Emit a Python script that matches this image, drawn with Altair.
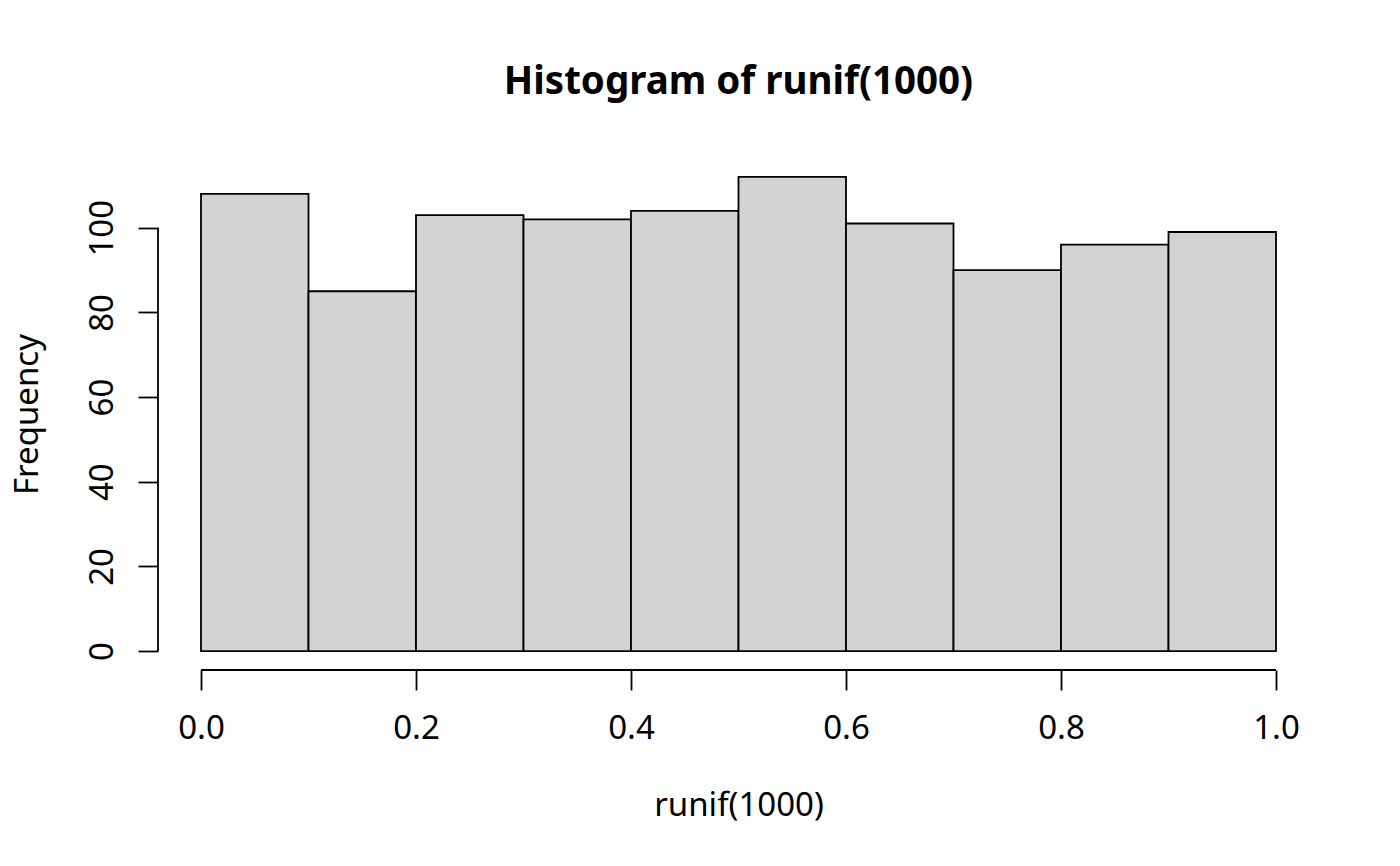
import altair as alt
import pandas as pd

bin_starts = [0.0, 0.1, 0.2, 0.3, 0.4, 0.5, 0.6, 0.7, 0.8, 0.9]
bin_ends = [0.1, 0.2, 0.3, 0.4, 0.5, 0.6, 0.7, 0.8, 0.9, 1.0]
counts = [108, 85, 103, 102, 104, 112, 101, 90, 96, 99]
x_ticks = [0.0, 0.2, 0.4, 0.6, 0.8, 1.0]
y_ticks = [0, 20, 40, 60, 80, 100]

title_text = "Histogram of runif(1000)"
x_title = "runif(1000)"
y_title = "Frequency"

FONT = "Noto Sans"
W, H = 1161, 512
LW = 1.8

df = pd.DataFrame({"start": bin_starts, "end": bin_ends, "count": counts})

x_rng = max(bin_ends) - min(bin_starts)
y_max = max(counts)
x_dom = [min(bin_starts) - 0.04 * x_rng, max(bin_ends) + 0.04 * x_rng]
y_dom = [-0.04 * y_max, y_max * 1.04]

xscale = alt.Scale(domain=x_dom, nice=False, zero=False)
yscale = alt.Scale(domain=y_dom, nice=False, zero=False)

xaxis = alt.Axis(
    values=x_ticks, format=".1f", domain=False, grid=False,
    tickColor="black", tickWidth=LW, tickSize=20,
    labelFont=FONT, labelFontSize=33, labelColor="black",
    labelBaseline="alphabetic", labelPadding=48, labelFlush=False,
    title=x_title, titleFont=FONT, titleFontSize=33, titleFontWeight="normal",
    titleColor="black", titleBaseline="alphabetic", titleY=145,
)
yaxis = alt.Axis(
    values=y_ticks, domain=False, grid=False,
    tickColor="black", tickWidth=LW, tickSize=20,
    labelFont=FONT, labelFontSize=33, labelColor="black",
    labelAngle=270, labelAlign="center", labelBaseline="alphabetic",
    labelPadding=26, labelFlush=False,
    title=y_title, titleFont=FONT, titleFontSize=33, titleFontWeight="normal",
    titleColor="black", titleAngle=270, titleBaseline="alphabetic",
    titleAlign="center", titleX=-121, titleY=H / 2,
)

bars = alt.Chart(df).mark_rect(
    fill="#D3D3D3", stroke="black", strokeWidth=LW
).encode(
    x=alt.X("start:Q", scale=xscale, axis=xaxis),
    x2="end:Q",
    y=alt.Y("count:Q", scale=yscale, axis=yaxis),
    y2=alt.datum(0),
)

xline = alt.Chart(pd.DataFrame({"a": [min(x_ticks)], "b": [max(x_ticks)]})).mark_rule(
    color="black", strokeWidth=LW
).encode(
    x=alt.X("a:Q", scale=xscale),
    x2="b:Q",
    y=alt.value(H),
)
yline = alt.Chart(pd.DataFrame({"a": [min(y_ticks)], "b": [max(y_ticks)]})).mark_rule(
    color="black", strokeWidth=LW
).encode(
    y=alt.Y("a:Q", scale=yscale),
    y2="b:Q",
    x=alt.value(0),
)

chart = alt.layer(bars, xline, yline).properties(
    width=W, height=H,
    background="white",
    title=alt.TitleParams(
        title_text, font=FONT, fontSize=38.5, fontWeight="bold", color="black",
        anchor="middle", frame="group", baseline="alphabetic", offset=26,
    ),
    autosize=alt.AutoSizeParams(type="none"),
    padding={"left": 150, "top": 150, "right": 70, "bottom": 180},
).configure_view(strokeWidth=0, stroke=None)

chart.save("out.html", embed_options={"renderer": "svg", "actions": False})
